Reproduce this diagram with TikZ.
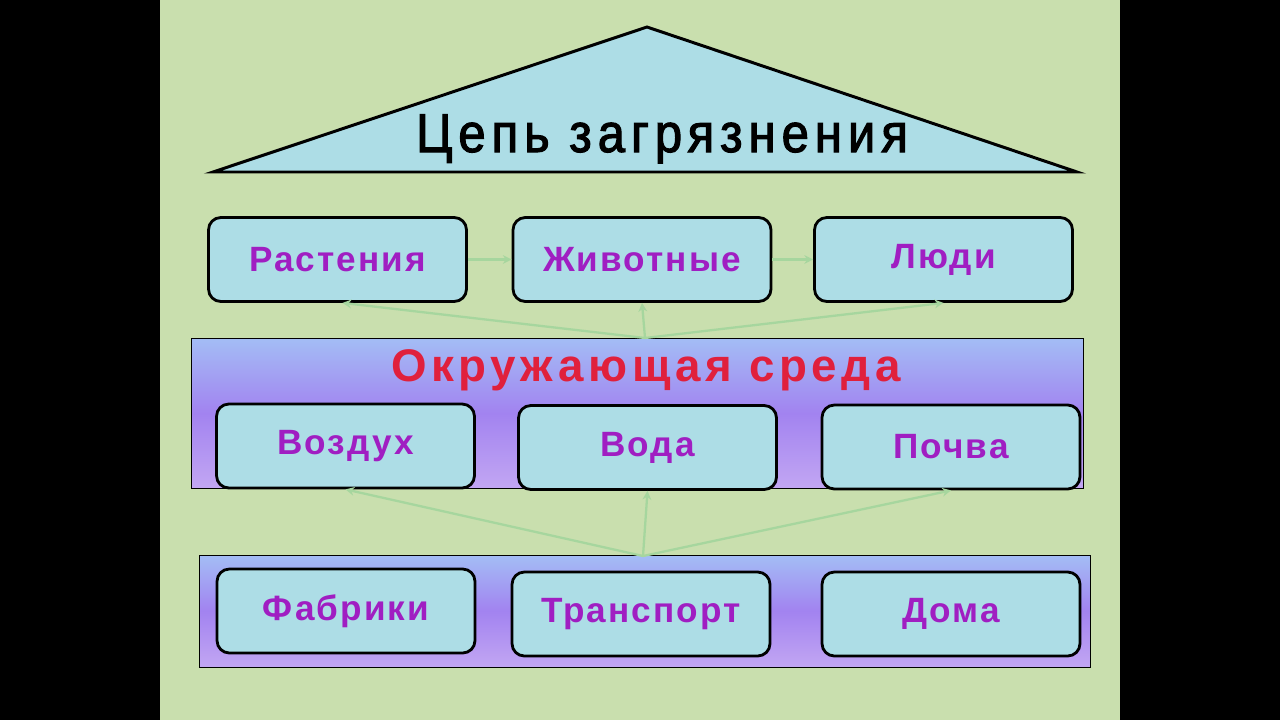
\documentclass[tikz,border=0pt]{standalone}
\usepackage{fontspec}
\setmainfont{Liberation Sans}
\newfontfamily\titlefont[LetterSpace=11, FakeStretch=0.9, FakeBold=2]{Liberation Sans}
\newfontfamily\boxfont[LetterSpace=6]{Liberation Sans Bold}
\newfontfamily\envfont[LetterSpace=10]{Liberation Sans Bold}
\usetikzlibrary{arrows.meta}
\definecolor{fondo}{HTML}{C9DFAE}
\definecolor{agua}{HTML}{ADDDE6}
\definecolor{flecha}{HTML}{A6D69E}
\definecolor{violeta}{HTML}{A01EC2}
\definecolor{rojo}{HTML}{E0203C}
\definecolor{azulb}{HTML}{A3BDF5}
\definecolor{lila}{HTML}{A283F0}
\definecolor{lilab}{HTML}{C2A6F3}
\tikzset{
	caja/.style={draw=black, line width=1.6pt, rounded corners=7pt, fill=agua, minimum width=5.16cm, minimum height=1.68cm, font=\boxfont\fontsize{20}{22}\selectfont, text=violeta},
	banda/.style={draw=black, line width=0.5pt, top color=azulb, bottom color=lilab, middle color=lila},
	flechita/.style={draw=flecha, line width=1.3pt, -{Stealth[length=5pt, width=5pt]}}
}
\begin{document}
\begin{tikzpicture}[x=0.02cm, y=-0.02cm]
		% fondo
		\fill[black] (0, 0) rectangle (1280, 720);
		\fill[fondo] (160, 0) rectangle (1120, 720);
		\useasboundingbox (0, 0) rectangle (1280, 720);

		% techo con el titulo
		\filldraw[fill=agua, draw=black, line width=1.7pt] (213, 172) -- (647, 27) -- (1077, 172) -- cycle; % base y vertice
		\node[font=\titlefont\fontsize{31}{35}\selectfont, anchor=base] (titulo) at (662, 152) {Цепь загрязнения};

		% bandas de colores
		\path[banda] (191, 338) rectangle (1083, 488); % medio ambiente
		\path[banda] (199, 555) rectangle (1090, 667); % fuentes
		\node[font=\envfont\fontsize{26}{30}\selectfont, text=rojo] (medio) at (646, 370) {Окружающая среда};

		% fila de arriba
		\node[caja] (rast) at (337.5, 259.5) {Растения};
		\node[caja] (zhiv) at (642, 259.5) {Животные};
		\node[caja] (lyudi) at (943.5, 259.5) {Люди};

		% fila del medio
		\node[caja] (vozd) at (345.5, 446) {Воздух};
		\node[caja] (voda) at (647.5, 447.5) {Вода};
		\node[caja] (pochva) at (951, 447) {Почва};

		% fila de abajo
		\node[caja] (fabr) at (346, 611) {Фабрики};
		\node[caja] (trans) at (641, 614) {Транспорт};
		\node[caja] (doma) at (951, 614) {Дома};

		% flechas
		\coordinate (arribamedio) at (645, 338);
		\coordinate (arribafuente) at (643, 556);
		\draw[flechita] (rast) -- (zhiv);
		\draw[flechita] (zhiv) -- (lyudi);
		\draw[flechita] (arribamedio) -- ([xshift=0.1cm]rast.south);
		\draw[flechita] (arribamedio) -- (zhiv.south);
		\draw[flechita] (arribamedio) -- (lyudi.south);
		\draw[flechita] (arribafuente) -- (vozd.south);
		\draw[flechita] (arribafuente) -- (voda.south);
		\draw[flechita] (arribafuente) -- (pochva.south);
	\end{tikzpicture}
\end{document}
